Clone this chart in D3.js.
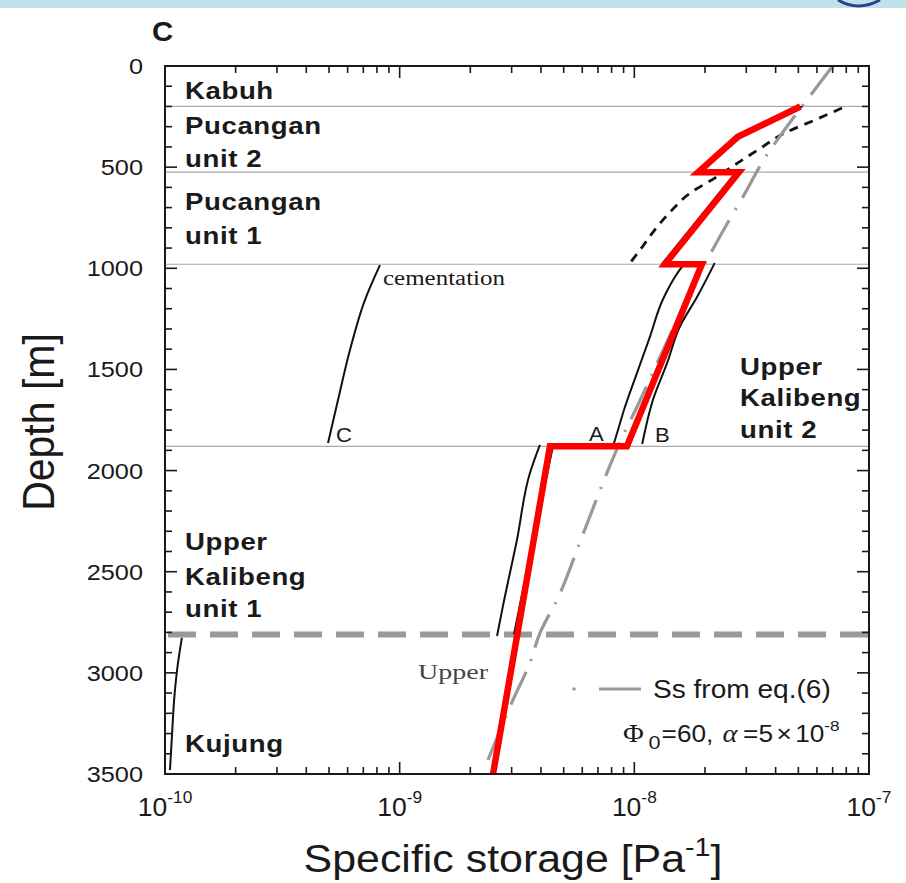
<!DOCTYPE html>
<html>
<head>
<meta charset="utf-8">
<script src="https://cdn.jsdelivr.net/npm/d3@7"></script>
<style>
  html, body { margin: 0; padding: 0; background: #fff; }
  svg { display: block; }
  text { font-family: "Liberation Sans", Arial, sans-serif; fill: #1a1a1a; }
  .serif { font-family: "Liberation Serif", "Times New Roman", serif; }
</style>
</head>
<body>
<svg id="chart" width="906" height="883"></svg>
<script>
// Axis ticks
const depthTicks = [0, 500, 1000, 1500, 2000, 2500, 3000, 3500];
const ssExponents = [-10, -9, -8, -7];

// Formation boundaries (m)
const boundaryDepths = [200, 525, 980, 1880];
const kujungTop = 2810;

// Red profile (adopted Ss)
const redDepth = [200, 350, 525, 525, 980, 980, 1880, 1880, 3500];
const redSs = [5.1e-8, 2.76e-8, 1.87e-8, 2.79e-8, 1.35e-8, 1.94e-8, 9.3e-9, 4.37e-9, 2.5e-9];

// Black short-dashed curve (Pucangan)
const modelDepth = [208, 267, 331, 415, 479, 554, 628, 722, 811, 895, 974];
const modelSs = [7.67e-8, 5.88e-8, 4.38e-8, 3.36e-8, 2.76e-8, 2.2e-8, 1.73e-8, 1.42e-8, 1.22e-8, 1.08e-8, 9.58e-9];

// Grey dash-dot curve: Ss from eq.(6)
const eq6Depth = [0, 148, 326, 455, 648, 771, 969, 1354, 1651, 1883, 2012, 2328, 2640, 2803, 2951, 3134, 3430];
const eq6Ss = [7.0e-8, 5.6e-8, 4.3e-8, 3.6e-8, 2.9e-8, 2.51e-8, 2.02e-8, 1.39e-8, 1.06e-8, 8.51e-9, 7.64e-9, 5.98e-9, 4.68e-9, 3.96e-9, 3.59e-9, 3.04e-9, 2.38e-9];

// Solid black curves
const pu2Depth = [200, 350, 525];
const pu2Ss = [5.2e-8, 2.85e-8, 1.9e-8];
const pu1Depth = [528, 980];
const pu1Ss = [2.7e-8, 1.31e-8];
const aDepth = [979, 1008, 1157, 1339, 1518, 1686, 1849, 1880];
const aSs = [1.63e-8, 1.56e-8, 1.32e-8, 1.165e-8, 1.026e-8, 9.12e-9, 8.27e-9, 8.11e-9];
const bDepth = [974, 1142, 1290, 1468, 1651, 1869];
const bSs = [2.2e-8, 1.85e-8, 1.56e-8, 1.38e-8, 1.2e-8, 1.08e-8];
const cemDepth = [984, 1157, 1404, 1651, 1864];
const cemSs = [8.24e-10, 7.11e-10, 6.14e-10, 5.46e-10, 4.95e-10];
const uk1aDepth = [1873, 2012, 2343, 2674, 2818];
const uk1aSs = [3.96e-9, 3.59e-9, 3.16e-9, 2.75e-9, 2.6e-9];
const uk1bDepth = [1880, 2343, 2810];
const uk1bSs = [4.5e-9, 3.7e-9, 3.07e-9];
const kujDepth = [2827, 2951, 3099, 3317, 3480];
const kujSs = [1.18e-10, 1.136e-10, 1.10e-10, 1.07e-10, 1.05e-10];

const svg = d3.select("#chart");
const L = 165, R = 869, T = 66, B = 774;

const x = d3.scaleLog().domain([1e-10, 1e-7]).range([L, R]);
const y = d3.scaleLinear().domain([0, 3500]).range([T, B]);

// text helper: glyphs are drawn a little wider than tall
function label(parent, tx, ty, str, size, opts = {}) {
  const t = parent.append("text")
    .attr("transform", `translate(${tx},${ty}) scale(${opts.sx || 1},1)`)
    .attr("font-size", size)
    .attr("text-anchor", opts.anchor || "start");
  if (opts.bold) t.attr("font-weight", "bold");
  if (opts.cls) t.attr("class", opts.cls);
  if (opts.ls) t.attr("letter-spacing", opts.ls);
  if (str !== null) t.text(str);
  return t;
}

// decorative header strip
svg.append("rect").attr("x", 0).attr("y", 0).attr("width", 906).attr("height", 8)
  .attr("fill", "#bfe2ea");
svg.append("path").attr("d", "M838,0 Q858,12 880,0").attr("fill", "none")
  .attr("stroke", "#2c3f8f").attr("stroke-width", 3);

const zip = (d, s) => d.map((v, i) => [s[i], v]);
const line = d3.line().x(p => x(p[0])).y(p => y(p[1]));
const smooth = d3.line().x(p => x(p[0])).y(p => y(p[1])).curve(d3.curveMonotoneY);

// boundaries
svg.append("g").selectAll("line").data(boundaryDepths).join("line")
  .attr("x1", L).attr("x2", R).attr("y1", d => y(d)).attr("y2", d => y(d))
  .attr("stroke", "#aaa").attr("stroke-width", 1.2);

svg.append("line").attr("x1", L + 3).attr("x2", R).attr("y1", y(kujungTop)).attr("y2", y(kujungTop))
  .attr("stroke", "#999").attr("stroke-width", 6).attr("stroke-dasharray", "28,14");

// solid black curves
[[pu2Depth, pu2Ss, line], [pu1Depth, pu1Ss, line], [aDepth, aSs, smooth], [bDepth, bSs, smooth],
 [cemDepth, cemSs, smooth], [uk1aDepth, uk1aSs, smooth], [uk1bDepth, uk1bSs, smooth],
 [kujDepth, kujSs, smooth]].forEach(([d, s, gen]) => {
  svg.append("path").attr("d", gen(zip(d, s))).attr("fill", "none")
    .attr("stroke", "#111").attr("stroke-width", 2);
});

// black dashed curve
svg.append("path").attr("d", smooth(zip(modelDepth, modelSs))).attr("fill", "none")
  .attr("stroke", "#111").attr("stroke-width", 2.8).attr("stroke-dasharray", "9,7");

// grey eq.(6) curve
svg.append("path").attr("d", smooth(zip(eq6Depth, eq6Ss))).attr("fill", "none")
  .attr("stroke", "#999").attr("stroke-width", 3.2).attr("stroke-dasharray", "36,12,2,12");

// red profile
svg.append("path").attr("d", line(zip(redDepth, redSs))).attr("fill", "none")
  .attr("stroke", "#ff0000").attr("stroke-width", 6.5).attr("stroke-linejoin", "miter")
  .attr("stroke-miterlimit", 10);

// frame
svg.append("rect").attr("x", L).attr("y", T).attr("width", R - L).attr("height", B - T)
  .attr("fill", "none").attr("stroke", "#1a1a1a").attr("stroke-width", 2);

// depth ticks (inward on both sides)
const tk = svg.append("g").attr("stroke", "#1a1a1a").attr("stroke-width", 1.6);
d3.range(0, 3501, 100).forEach(d => {
  const len = d % 500 === 0 ? 12 : 7;
  tk.append("line").attr("x1", L).attr("x2", L + len).attr("y1", y(d)).attr("y2", y(d));
  tk.append("line").attr("x1", R).attr("x2", R - len).attr("y1", y(d)).attr("y2", y(d));
});
// log ticks on top and bottom
const logTicks = [];
for (let e = -10; e < -7; e++) for (let m = 1; m <= 9; m++) logTicks.push([m * Math.pow(10, e), m === 1]);
logTicks.push([1e-7, true]);
logTicks.forEach(([v, major]) => {
  const len = major ? 12 : 7;
  tk.append("line").attr("x1", x(v)).attr("x2", x(v)).attr("y1", B).attr("y2", B - len);
  tk.append("line").attr("x1", x(v)).attr("x2", x(v)).attr("y1", T).attr("y2", T + len);
});

// depth tick labels
depthTicks.forEach(d => label(svg, 143, y(d) + 8, String(d), 22, { anchor: "end", sx: 1.15 }));

// Ss tick labels: 10^n
ssExponents.forEach(e => {
  const t = label(svg, x(Math.pow(10, e)), 816, null, 26, { anchor: "middle", sx: 1.02 });
  t.append("tspan").text("10");
  t.append("tspan").attr("dy", -13).attr("font-size", 17).text(String(e));
});

// axis titles
const xt = label(svg, 513, 872, null, 39, { anchor: "middle", sx: 1.1 });
xt.append("tspan").text("Specific storage [Pa");
xt.append("tspan").attr("dy", -16).attr("font-size", 26).text("-1");
xt.append("tspan").attr("dy", 16).text("]");

svg.append("text").attr("transform", "translate(54,422) rotate(-90) scale(1,1.1)")
  .attr("text-anchor", "middle").attr("font-size", 41).text("Depth [m]");

// panel letter
label(svg, 152, 41, "C", 28, { bold: true, sx: 1.05 });

// formation names
const fm = [
  ["Kabuh", 185, 99], ["Pucangan", 185, 134], ["unit 2", 185, 167],
  ["Pucangan", 185, 210], ["unit 1", 185, 244],
  ["Upper", 740, 375], ["Kalibeng", 740, 406], ["unit 2", 740, 438],
  ["Upper", 185, 550], ["Kalibeng", 185, 585], ["unit 1", 185, 617],
  ["Kujung", 185, 752]
];
fm.forEach(([s, fx, fy]) => label(svg, fx, fy, s, 23, { bold: true, sx: 1.2, ls: 0.5 }));

// curve labels
svg.append("text").attr("class", "serif").attr("x", 383).attr("y", 285)
  .attr("font-size", 20).attr("textLength", 122).attr("lengthAdjust", "spacingAndGlyphs")
  .text("cementation");
label(svg, 336, 442, "C", 20, { sx: 1.1 });
label(svg, 589, 441, "A", 20, { sx: 1.1 });
label(svg, 655, 442, "B", 20, { sx: 1.1 });
svg.append("text").attr("class", "serif").attr("x", 418).attr("y", 679)
  .attr("font-size", 21).attr("textLength", 70).attr("lengthAdjust", "spacingAndGlyphs")
  .style("fill", "#444").text("Upper");

// legend
svg.append("circle").attr("cx", 574).attr("cy", 689).attr("r", 1.8).attr("fill", "#999");
svg.append("line").attr("x1", 599).attr("x2", 641).attr("y1", 689).attr("y2", 689)
  .attr("stroke", "#999").attr("stroke-width", 3);
label(svg, 653, 698, "Ss from eq.(6)", 26, { sx: 1.08 });
const pt = label(svg, 623, 742, null, 23, { sx: 1.14 });
pt.append("tspan").attr("class", "serif").attr("font-size", 25).text("\u03A6");
pt.append("tspan").attr("dx", 4).attr("dy", 7).attr("font-size", 19).text("0");
pt.append("tspan").attr("dx", 1).attr("dy", -7).text("=60,");
pt.append("tspan").attr("dx", 8).attr("class", "serif").attr("font-style", "italic").attr("font-size", 25).text("\u03B1");
pt.append("tspan").attr("dx", 5).text("=5");
pt.append("tspan").attr("dx", 3).text("\u00D7");
pt.append("tspan").attr("dx", 3).text("10");
pt.append("tspan").attr("dy", -11).attr("font-size", 15).text("-8");
</script>
</body>
</html>
